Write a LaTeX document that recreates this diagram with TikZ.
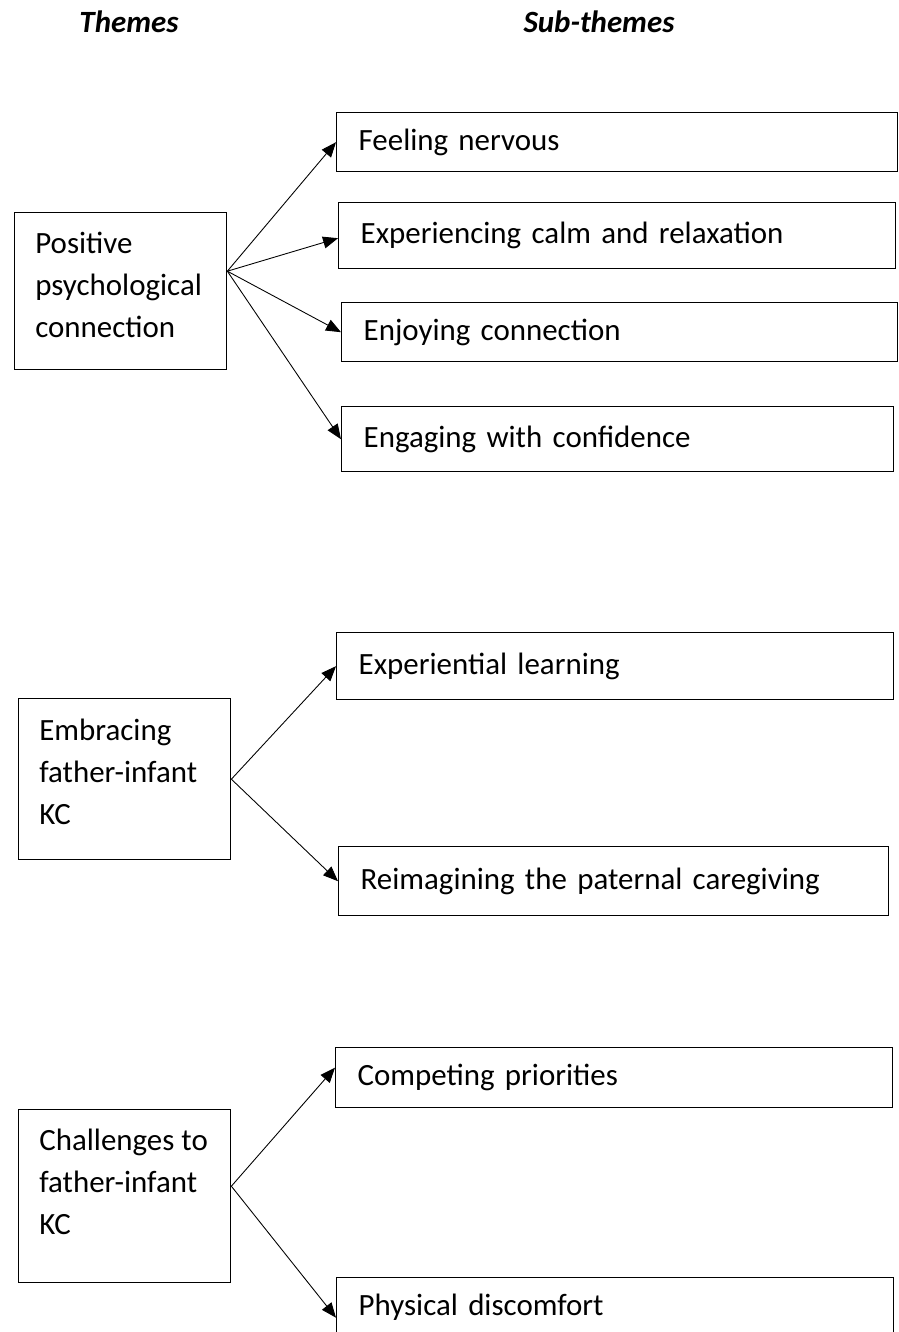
\documentclass[tikz,border=0pt]{standalone}
\usepackage{fontspec}
\setmainfont{Carlito}
\usetikzlibrary{positioning}
\usetikzlibrary{arrows.meta}

\begin{document}
\begin{tikzpicture}[x=0.02cm,y=-0.02cm,
  every node/.style={align=left,font=\fontsize{17.6pt}{23.8pt}\selectfont},
  head/.style={font=\fontsize{17.6pt}{23.8pt}\selectfont\bfseries\itshape},
  themebox/.style={draw,line width=0.8pt,anchor=north west,minimum width=4.24cm,minimum height=#1,inner sep=0pt},
  themetext/.style={anchor=north west,inner sep=0pt},
  subbox/.style 2 args={draw,line width=0.8pt,anchor=north west,text width=#1,minimum height=#2,inner xsep=0.44cm,inner ysep=0pt},
  link/.style={line width=0.5pt,-{Triangle[length=8.5pt,width=6.8pt]}}]
\path[use as bounding box,clip] (0,0) rectangle (899,1332);

% column heads
\node[head] (hthemes) at (129,22) {Themes};
\node[head] (hsub) at (599,22) {Sub-themes};

% first theme
\node[themebox=3.14cm] (t1) at (14,212) {};
\node[themetext] (t1txt) at (35,232) {Positive\\psychological\\connection};
\node[subbox={10.34cm}{1.18cm}] (s1) at (336,112) {Feeling nervous};
\node[subbox={10.26cm}{1.32cm}] (s2) at (338,202) {Experiencing calm and relaxation};
\node[subbox={10.24cm}{1.18cm}] (s3) at (341,302) {Enjoying connection};
\node[subbox={10.16cm}{1.30cm}] (s4) at (341,406) {Engaging with confidence};
\draw[link] ([yshift=0.4cm]t1.east) -- (s1.west);
\draw[link] ([yshift=0.4cm]t1.east) -- ([yshift=-0.05cm]s2.west);
\draw[link] ([yshift=0.4cm]t1.east) -- (s3.west);
\draw[link] ([yshift=0.4cm]t1.east) -- (s4.west);

% second theme
\node[themebox=3.22cm] (t2) at (18,698) {};
\node[themetext] (t2txt) at (39,719) {Embracing\\father-infant\\KC};
\node[subbox={10.26cm}{1.34cm}] (s5) at (336,632) {Experiential learning};
\node[subbox={10.12cm}{1.38cm}] (s6) at (338,846) {Reimagining the paternal caregiving};
\draw[link] (t2.east) -- (s5.west);
\draw[link] (t2.east) -- (s6.west);

% third theme
\node[themebox=3.46cm] (t3) at (18,1109) {};
\node[themetext] (t3txt) at (39,1129) {Challenges to\\father-infant\\KC};
\node[subbox={10.26cm}{1.20cm}] (s7) at (335,1047) {Competing priorities};
\node[subbox={10.26cm}{1.20cm}] (s8) at (336,1277) {Physical discomfort};
\draw[link] ([yshift=0.2cm]t3.east) -- ([yshift=0.2cm]s7.west);
\draw[link] ([yshift=0.2cm]t3.east) -- ([yshift=-0.2cm]s8.west);
\end{tikzpicture}
\end{document}
